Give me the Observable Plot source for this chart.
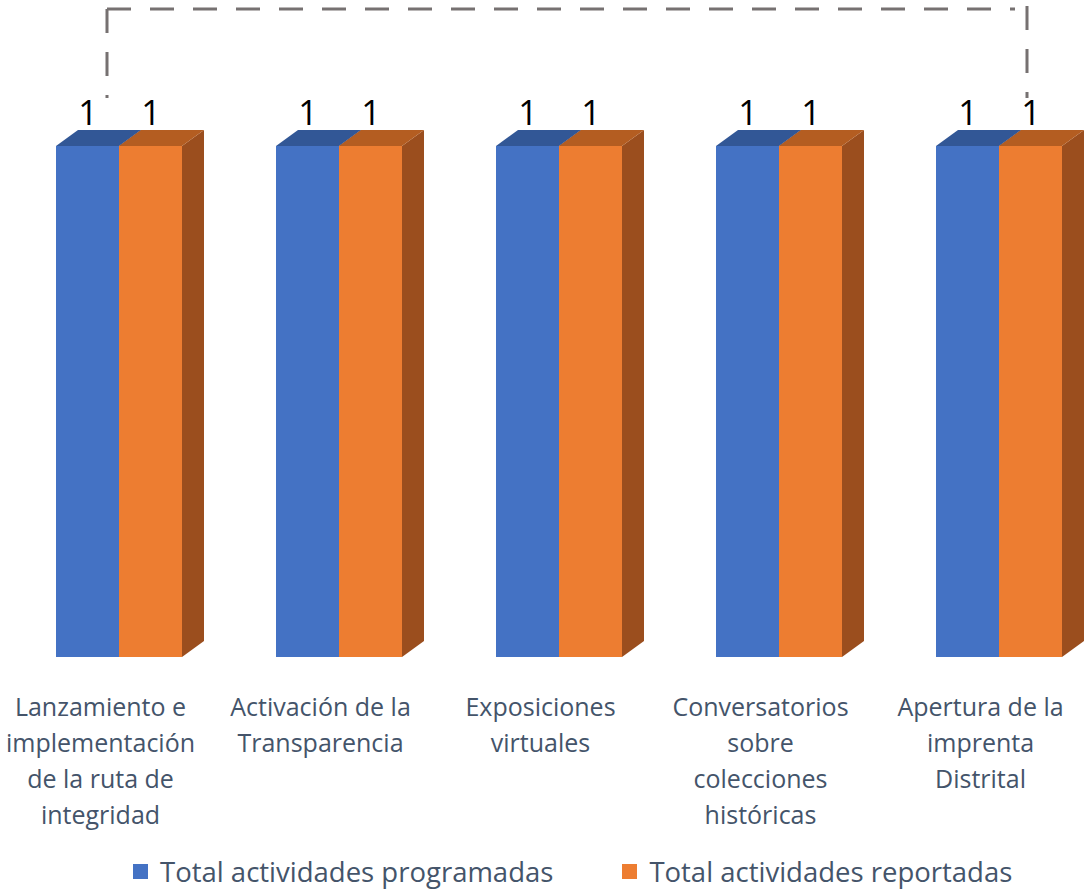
<!DOCTYPE html>
<html><head><meta charset="utf-8">
<script src="https://cdn.jsdelivr.net/npm/d3@7"></script>
<script src="https://cdn.jsdelivr.net/npm/@observablehq/plot@0.6"></script>
<style>
body{margin:0;background:#fff;font-family:"Open Sans",sans-serif;}
#wrap{position:relative;width:1084px;height:890px;overflow:hidden;}
#deco{position:absolute;left:0;top:0;pointer-events:none;}
#legend{position:absolute;left:133px;top:853px;display:flex;align-items:center;font-size:27.5px;color:#44546A;white-space:nowrap;}
#legend .sw{display:inline-block;width:15px;height:15px;margin-right:12px;}
#legend .item{display:flex;align-items:center;}
</style></head><body><div id="wrap"></div>
<script>
const categories = [
  "Lanzamiento e\nimplementación\nde la ruta de\nintegridad",
  "Activación de la\nTransparencia",
  "Exposiciones\nvirtuales",
  "Conversatorios\nsobre\ncolecciones\nhistóricas",
  "Apertura de la\nimprenta\nDistrital"
];
const seriesNames = ["Total actividades programadas", "Total actividades reportadas"];
const programadas = [1, 1, 1, 1, 1];
const reportadas = [1, 1, 1, 1, 1];

const frontColors = ["#4472C4", "#ED7D31"];
const topColors = ["#325796", "#B45D21"];
const sideColors = ["#2A4A80", "#9B4E1E"];

const data = categories.flatMap((c, i) => [
  {category: c, series: seriesNames[0], value: programadas[i]},
  {category: c, series: seriesNames[1], value: reportadas[i]}
]);

const DX = 22, DY = 16;

const chart = Plot.plot({
  width: 1084,
  height: 850,
  marginLeft: 56,
  marginRight: 21,
  marginTop: 146,
  marginBottom: 193,
  style: {fontFamily: "'Open Sans', sans-serif", background: "transparent", overflow: "visible"},
  fx: {domain: categories, paddingInner: 0.428, paddingOuter: 0, align: 0, label: null},
  x: {domain: seriesNames, padding: 0, axis: null},
  y: {domain: [0, 1], axis: null},
  color: {domain: seriesNames, range: frontColors},
  marks: [
    Plot.barY(data, {fx: "category", x: "series", y: "value", fill: "series"}),
    Plot.text(data, {fx: "category", x: "series", y: "value", text: d => String(d.value),
      lineAnchor: "bottom", dy: -22, fontSize: 34, fill: "#000"}),
    Plot.axisFx({anchor: "bottom", tickSize: 0, tickPadding: 33, label: null, fontSize: 25,
      lineHeight: 1.44, fill: "#44546A", dx: -19})
  ]
});

// Add 3D top and side faces to each bar drawn by Plot (positions come from Plot's scales)
const ns = "http://www.w3.org/2000/svg";
chart.querySelectorAll('g[aria-label="bar"] rect').forEach(r => {
  const x0 = +r.getAttribute("x"), yt = +r.getAttribute("y");
  const w = +r.getAttribute("width"), h = +r.getAttribute("height");
  const fill = (r.getAttribute("fill") || "").toLowerCase();
  let s = frontColors.findIndex(c => c.toLowerCase() === fill);
  if (s < 0) s = 0;
  const x1 = x0 + w, yb = yt + h;
  const side = document.createElementNS(ns, "polygon");
  side.setAttribute("points", `${x1},${yt} ${x1 + DX},${yt - DY} ${x1 + DX},${yb - DY} ${x1},${yb}`);
  side.setAttribute("fill", sideColors[s]);
  const top = document.createElementNS(ns, "polygon");
  top.setAttribute("points", `${x0},${yt} ${x1},${yt} ${x1 + DX},${yt - DY} ${x0 + DX},${yt - DY}`);
  top.setAttribute("fill", topColors[s]);
  r.parentNode.insertBefore(side, r);
  r.parentNode.insertBefore(top, r);
});

const wrap = document.getElementById("wrap");
wrap.appendChild(chart);

const deco = document.createElementNS(ns, "svg");
deco.setAttribute("id", "deco");
deco.setAttribute("width", 1084);
deco.setAttribute("height", 120);
deco.innerHTML = `
<path d="M107,9 V98" fill="none" stroke="#767171" stroke-width="3" stroke-dasharray="24 19"/>
<path d="M107,9 H1015" fill="none" stroke="#767171" stroke-width="3" stroke-dasharray="24 19"/>
<path d="M1027,6 V98" fill="none" stroke="#767171" stroke-width="3" stroke-dasharray="24 19"/>`;
wrap.appendChild(deco);

const legend = document.createElement("div");
legend.id = "legend";
seriesNames.forEach((n, k) => {
  const it = document.createElement("div");
  it.className = "item";
  if (k > 0) it.style.marginLeft = "69px";
  const sw = document.createElement("span");
  sw.className = "sw";
  sw.style.background = frontColors[k];
  it.appendChild(sw);
  const t = document.createElement("span");
  t.textContent = n;
  it.appendChild(t);
  legend.appendChild(it);
});
wrap.appendChild(legend);
</script></body></html>
